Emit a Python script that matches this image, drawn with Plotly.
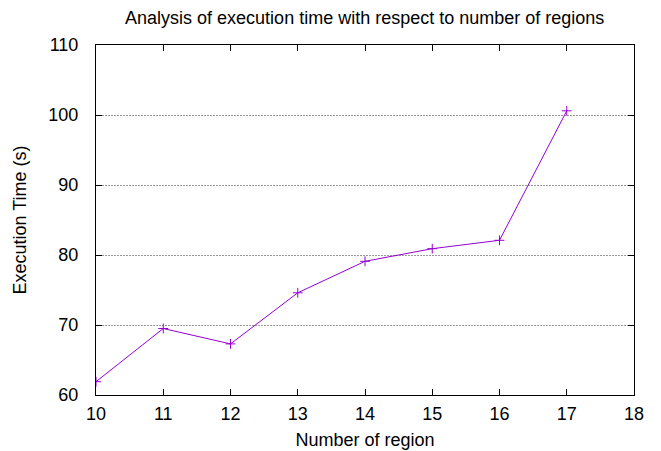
import plotly.graph_objects as go

regions = [10, 11, 12, 13, 14, 15, 16, 17]
exec_time = [61.9, 69.5, 67.3, 74.6, 79.1, 80.9, 82.1, 100.6]

x_ticks = [10, 11, 12, 13, 14, 15, 16, 17, 18]
y_ticks = [60, 70, 80, 90, 100, 110]

color = "#9400D3"
font = "Liberation Sans, Arial, sans-serif"

# The page body has an 8px default margin; compensate so the plot lands where intended.
OFF = 8
W, H = 661 - OFF, 451 - OFF
L, T, R, B = 96 - OFF, 45 - OFF, 27, 56

fig = go.Figure()
fig.add_trace(go.Scatter(
    x=regions, y=exec_time, mode="lines+markers",
    line=dict(color=color, width=1),
    marker=dict(symbol="cross-thin", size=7, line=dict(color=color, width=1)),
    showlegend=False,
))

fig.update_layout(
    width=W, height=H,
    margin=dict(l=L, r=R, t=T, b=B),
    paper_bgcolor="white", plot_bgcolor="white",
    font=dict(family=font, size=18, color="black"),
    title=dict(text="Analysis of execution time with respect to number of regions",
               x=(96 + 634) / 2 / 661 - 0.006, xanchor="center",
               y=1 - (18 - OFF) / H, yanchor="middle",
               font=dict(size=18)),
)
fig.update_xaxes(
    range=[10, 18], tickvals=x_ticks, ticks="inside", ticklen=6, tickcolor="black",
    showline=True, linecolor="black", linewidth=1, mirror="ticks",
    showgrid=False, zeroline=False, automargin=False,
    ticklabelstandoff=2,
    title=dict(text="Number of region", standoff=10, font=dict(size=18)),
    tickfont=dict(size=18),
)
fig.update_yaxes(
    range=[60, 110], tickvals=y_ticks, ticks="inside", ticklen=6, tickcolor="black",
    showline=True, linecolor="black", linewidth=1, mirror="ticks",
    showgrid=True, gridcolor="#999999", griddash="2px,1px", gridwidth=1, zeroline=False,
    automargin=False,
    ticklabelstandoff=13,
    title=dict(text="Execution Time (s)", standoff=17, font=dict(size=18)),
    tickfont=dict(size=18),
)

fig.write_html("out.html")
